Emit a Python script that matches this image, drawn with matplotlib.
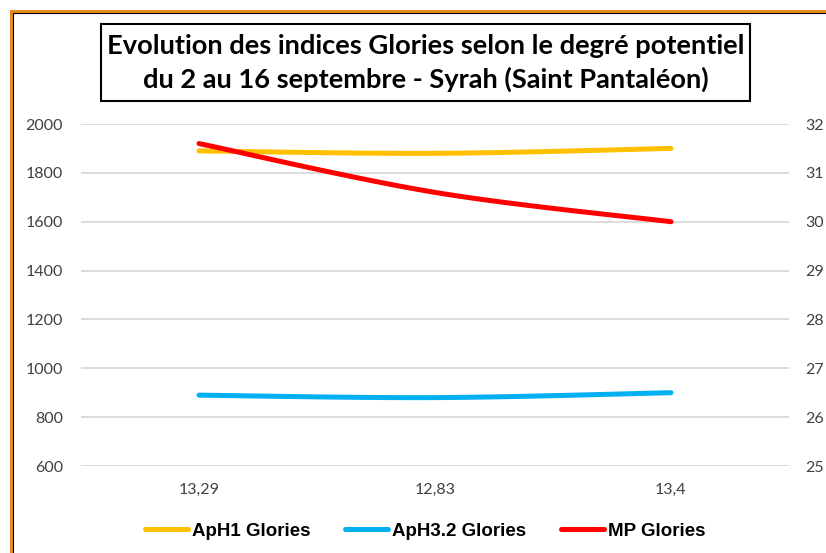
import numpy as np
import matplotlib
matplotlib.use("Agg")
import matplotlib.pyplot as plt
from matplotlib.patches import Rectangle
from matplotlib.lines import Line2D

categories = ["13,29", "12,83", "13,4"]
aph1 = [1890, 1880, 1900]
aph32 = [890, 880, 900]
mp = [31.6, 30.6, 30.0]
left_ticks = [600, 800, 1000, 1200, 1400, 1600, 1800, 2000]
right_ticks = [25, 26, 27, 28, 29, 30, 31, 32]
title = "Evolution des indices Glories selon le degré potentiel\ndu 2 au 16 septembre - Syrah (Saint Pantaléon)"

W, H = 826, 553
fig = plt.figure(figsize=(W / 100, H / 100), dpi=100)
fig.patch.set_facecolor("white")


def fx(px):
    return px / W


def fy(py):
    return 1 - py / H


def smooth(xs, ys, n=40):
    # Excel-like smoothed line (Catmull-Rom Bezier)
    xs = np.asarray(xs, float)
    ys = np.asarray(ys, float)
    px = np.concatenate([[xs[0]], xs, [xs[-1]]])
    py = np.concatenate([[ys[0]], ys, [ys[-1]]])
    outx, outy = [], []
    t = np.linspace(0, 1, n)
    for i in range(1, len(px) - 2):
        p0 = np.array([px[i], py[i]])
        p3 = np.array([px[i + 1], py[i + 1]])
        c1 = p0 + (np.array([px[i + 1], py[i + 1]]) - np.array([px[i - 1], py[i - 1]])) / 6
        c2 = p3 - (np.array([px[i + 2], py[i + 2]]) - np.array([px[i], py[i]])) / 6
        b = ((1 - t) ** 3)[:, None] * p0 + (3 * (1 - t) ** 2 * t)[:, None] * c1 \
            + (3 * (1 - t) * t ** 2)[:, None] * c2 + (t ** 3)[:, None] * p3
        outx.extend(b[:, 0])
        outy.extend(b[:, 1])
    return np.array(outx), np.array(outy)


ax = fig.add_axes([fx(81), fy(466), fx(789) - fx(81), fy(124) - fy(466)])
ax2 = ax.twinx()

x = np.arange(len(categories))
lw = 3.6
c1, c2, c3 = "#FFC000", "#00B0F0", "#FF0000"

sx, sy = smooth(x, aph1)
ax.plot(sx, sy, color=c1, lw=lw, solid_capstyle="round", zorder=3)
sx, sy = smooth(x, aph32)
ax.plot(sx, sy, color=c2, lw=lw, solid_capstyle="round", zorder=3)
sx, sy = smooth(x, mp)
ax2.plot(sx, sy, color=c3, lw=lw, solid_capstyle="round", zorder=3)

ax.set_xlim(-0.5, len(categories) - 0.5)
ax.set_ylim(600, 2000)
ax2.set_ylim(25, 32)
ax.set_yticks(left_ticks)
ax2.set_yticks(right_ticks)
ax.set_xticks(x)
ax.set_xticklabels(categories)
ax.grid(axis="y", color="#D9D9D9", lw=1.3)
ax.set_axisbelow(True)
for a in (ax, ax2):
    for s in a.spines.values():
        s.set_visible(False)
    a.tick_params(length=0, labelsize=11.5, labelcolor="#404040")
    for lab in a.get_yticklabels() + a.get_xticklabels():
        lab.set_fontfamily("Lato")
ax.tick_params(axis="y", pad=13)
ax.tick_params(axis="x", pad=12)
ax2.tick_params(axis="y", pad=12)

# title box
fig.patches.append(Rectangle((fx(101), fy(101)), fx(750) - fx(101), fy(24) - fy(101),
                             transform=fig.transFigure, facecolor="white",
                             edgecolor="black", lw=1.5, zorder=5))
fig.text((fx(101) + fx(750)) / 2, (fy(24) + fy(101)) / 2 - 0.001, title, ha="center", va="center",
         fontsize=19.6, fontweight="bold", family="Lato", linespacing=1.42, zorder=6)

# legend
handles = [Line2D([], [], color=c, lw=lw, solid_capstyle="round") for c in (c1, c2, c3)]
leg = fig.legend(handles, ["ApH1 Glories", "ApH3.2 Glories", "MP Glories"], ncol=3,
                 loc="center", bbox_to_anchor=(fx(425), fy(531)), frameon=False,
                 prop={"family": "Liberation Sans", "weight": "bold", "size": 13.5},
                 handlelength=2.29, handletextpad=0.2, columnspacing=1.87)

# outer border (cropped chart frame)
fig.patches.append(Rectangle((fx(10.5), fy(600)), 1, fy(10.5) - fy(600),
                             transform=fig.transFigure, facecolor="none",
                             edgecolor="#E48A1E", lw=2.2, zorder=10))
fig.patches.append(Rectangle((fx(12.5), fy(600)), 1, fy(12.5) - fy(600),
                             transform=fig.transFigure, facecolor="none",
                             edgecolor="black", lw=0.8, zorder=10))

fig.savefig("out.png", dpi=100)
